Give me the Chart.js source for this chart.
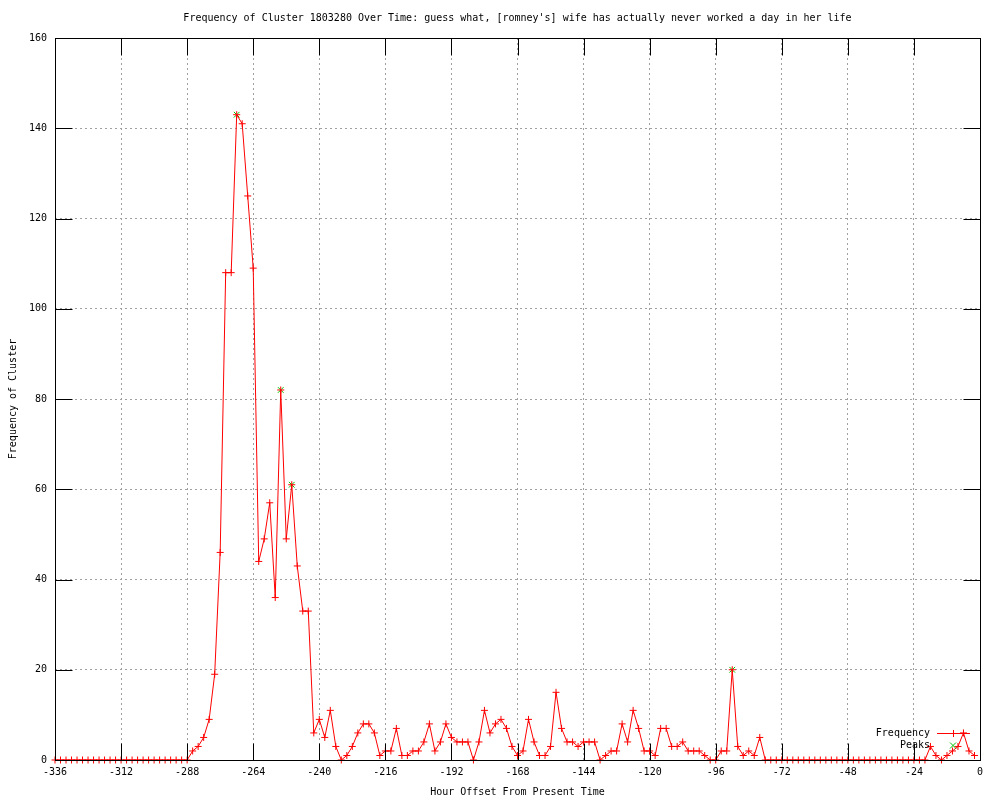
<!DOCTYPE html>
<html>
<head>
<meta charset="utf-8">
<title>Frequency of Cluster 1803280</title>
<script src="https://cdn.jsdelivr.net/npm/chart.js@4.4.0/dist/chart.umd.min.js"></script>
<style>
  html, body { margin: 0; padding: 0; background: #fff; }
  #wrap { width: 1000px; height: 800px; }
</style>
</head>
<body>
<div id="wrap"><canvas id="grafico" width="1000" height="800"></canvas></div>
<script>
/* ---------------------------------------------------------------
   DADOS (um ponto a cada 2 horas)
--------------------------------------------------------------- */
const hours = [
  -336, -334, -332, -330, -328, -326, -324, -322, -320, -318, -316, -314,
  -312, -310, -308, -306, -304, -302, -300, -298, -296, -294, -292, -290,
  -288, -286, -284, -282, -280, -278, -276, -274, -272, -270, -268, -266,
  -264, -262, -260, -258, -256, -254, -252, -250, -248, -246, -244, -242,
  -240, -238, -236, -234, -232, -230, -228, -226, -224, -222, -220, -218,
  -216, -214, -212, -210, -208, -206, -204, -202, -200, -198, -196, -194,
  -192, -190, -188, -186, -184, -182, -180, -178, -176, -174, -172, -170,
  -168, -166, -164, -162, -160, -158, -156, -154, -152, -150, -148, -146,
  -144, -142, -140, -138, -136, -134, -132, -130, -128, -126, -124, -122,
  -120, -118, -116, -114, -112, -110, -108, -106, -104, -102, -100,  -98,
   -96,  -94,  -92,  -90,  -88,  -86,  -84,  -82,  -80,  -78,  -76,  -74,
   -72,  -70,  -68,  -66,  -64,  -62,  -60,  -58,  -56,  -54,  -52,  -50,
   -48,  -46,  -44,  -42,  -40,  -38,  -36,  -34,  -32,  -30,  -28,  -26,
   -24,  -22,  -20,  -18,  -16,  -14,  -12,  -10,   -8,   -6,   -4,   -2
];

const frequency = [
    0,   0,   0,   0,   0,   0,   0,   0,   0,   0,   0,   0,
    0,   0,   0,   0,   0,   0,   0,   0,   0,   0,   0,   0,
    0,   2,   3,   5,   9,  19,  46, 108, 108, 143, 141, 125,
  109,  44,  49,  57,  36,  82,  49,  61,  43,  33,  33,   6,
    9,   5,  11,   3,   0,   1,   3,   6,   8,   8,   6,   1,
    2,   2,   7,   1,   1,   2,   2,   4,   8,   2,   4,   8,
    5,   4,   4,   4,   0,   4,  11,   6,   8,   9,   7,   3,
    1,   2,   9,   4,   1,   1,   3,  15,   7,   4,   4,   3,
    4,   4,   4,   0,   1,   2,   2,   8,   4,  11,   7,   2,
    2,   1,   7,   7,   3,   3,   4,   2,   2,   2,   1,   0,
    0,   2,   2,  20,   3,   1,   2,   1,   5,   0,   0,   0,
    0,   0,   0,   0,   0,   0,   0,   0,   0,   0,   0,   0,
    0,   0,   0,   0,   0,   0,   0,   0,   0,   0,   0,   0,
    0,   0,   0,   3,   1,   0,   1,   2,   3,   6,   2,   1
];

const peakHours  = [-270, -254, -250, -90];
const peakValues = [143, 82, 61, 20];

const xTickStep = 24;
const yTickStep = 20;

const TITULO = "Frequency of Cluster 1803280 Over Time: guess what, [romney's] wife has actually never worked a day in her life";
const FONTE = "'DejaVu Sans Mono', 'Liberation Mono', monospace";
const VERMELHO = "#ff0000";
const VERDE = "#00c000";

/* ---------------------------------------------------------------
   MOLDURA + TICKS PARA DENTRO (estilo gnuplot)
--------------------------------------------------------------- */
const moldura = {
    id: "moldura",
    afterDatasetsDraw(chart) {
        const { ctx, chartArea: a, scales: { x, y } } = chart;
        const L = Math.round(a.left) + 0.5, R = Math.round(a.right) + 0.5;
        const T = Math.round(a.top) + 0.5, B = Math.round(a.bottom) + 0.5;
        const tam = 17;

        ctx.save();
        ctx.strokeStyle = "#000";
        ctx.lineWidth = 1;
        ctx.setLineDash([]);
        ctx.strokeRect(L, T, R - L, B - T);

        ctx.beginPath();
        x.ticks.forEach(t => {
            const px = Math.round(x.getPixelForValue(t.value)) + 0.5;
            ctx.moveTo(px, B); ctx.lineTo(px, B - tam);
            ctx.moveTo(px, T); ctx.lineTo(px, T + tam);
        });
        y.ticks.forEach(t => {
            const py = Math.round(y.getPixelForValue(t.value)) + 0.5;
            ctx.moveTo(L, py); ctx.lineTo(L + tam, py);
            ctx.moveTo(R, py); ctx.lineTo(R - tam, py);
        });
        ctx.stroke();
        ctx.restore();
    }
};

/* ---------------------------------------------------------------
   LEGENDA DENTRO DO GRÁFICO (canto inferior direito)
--------------------------------------------------------------- */
const legendaInterna = {
    id: "legendaInterna",
    afterDraw(chart) {
        const { ctx } = chart;
        const xTexto = 930, xLinha0 = 937, xLinha1 = 970, xMarca = 953;
        const linhas = [
            { texto: "Frequency", y: 733, cor: VERMELHO, linha: true, estilo: "+" },
            { texto: "Peaks", y: 745, cor: VERDE, linha: false, estilo: "x" }
        ];

        ctx.save();
        ctx.font = "10px " + FONTE;
        ctx.textAlign = "right";
        ctx.textBaseline = "middle";
        linhas.forEach(l => {
            ctx.fillStyle = "#000";
            ctx.fillText(l.texto, xTexto, l.y);

            ctx.strokeStyle = l.cor;
            ctx.lineWidth = 1;
            ctx.beginPath();
            const yy = l.y + 0.5;
            if (l.linha) { ctx.moveTo(xLinha0, yy); ctx.lineTo(xLinha1, yy); }
            if (l.estilo === "+") {
                ctx.moveTo(xMarca + 0.5, yy - 3.5); ctx.lineTo(xMarca + 0.5, yy + 3.5);
                ctx.moveTo(xMarca - 3.5, yy); ctx.lineTo(xMarca + 3.5, yy);
            } else {
                ctx.moveTo(xMarca - 3, yy - 3); ctx.lineTo(xMarca + 3, yy + 3);
                ctx.moveTo(xMarca - 3, yy + 3); ctx.lineTo(xMarca + 3, yy - 3);
            }
            ctx.stroke();
        });
        ctx.restore();
    }
};

/* ---------------------------------------------------------------
   GRÁFICO
--------------------------------------------------------------- */
const fonteTexto = { family: FONTE, size: 10, weight: "normal" };

const grafico = new Chart(document.querySelector("#grafico").getContext("2d"), {
    type: "line",
    data: {
        datasets: [
            {
                label: "Frequency",
                data: hours.map((h, i) => ({ x: h, y: frequency[i] })),
                borderColor: VERMELHO,
                borderWidth: 1,
                pointStyle: "cross",
                pointRadius: 3.5,
                pointBorderColor: VERMELHO,
                pointBorderWidth: 1,
                tension: 0,
                clip: false
            },
            {
                label: "Peaks",
                data: peakHours.map((h, i) => ({ x: h, y: peakValues[i] })),
                showLine: false,
                borderColor: VERDE,
                pointStyle: "crossRot",
                pointRadius: 4,
                pointBorderColor: VERDE,
                pointBorderWidth: 1,
                clip: false
            }
        ]
    },
    options: {
        responsive: false,
        animation: false,
        events: [],
        layout: { padding: { top: 0, right: 20, bottom: 0, left: 0 } },
        plugins: {
            legend: { display: false },
            tooltip: { enabled: false },
            title: {
                display: true,
                text: TITULO,
                fullSize: false,
                color: "#000",
                font: fonteTexto,
                padding: { top: 12, bottom: 14 }
            }
        },
        scales: {
            x: {
                type: "linear",
                min: -336,
                max: 0,
                afterFit: s => { s.height = 40; },
                ticks: {
                    stepSize: xTickStep,
                    color: "#000",
                    font: fonteTexto,
                    padding: 6,
                    maxRotation: 0,
                    autoSkip: false,
                    callback: v => String(v)
                },
                grid: { color: "#a0a0a0", lineWidth: 1, drawTicks: false },
                border: { display: false, dash: [2, 3] },
                title: {
                    display: true,
                    text: "Hour Offset From Present Time",
                    color: "#000",
                    font: fonteTexto,
                    padding: { top: 0, bottom: 2 }
                }
            },
            y: {
                min: 0,
                max: 160,
                afterFit: s => { s.width = 55; },
                ticks: {
                    stepSize: yTickStep,
                    color: "#000",
                    font: fonteTexto,
                    padding: 8,
                    callback: v => String(v)
                },
                grid: { color: "#a0a0a0", lineWidth: 1, drawTicks: false },
                border: { display: false, dash: [2, 3] },
                title: {
                    display: true,
                    text: "Frequency of Cluster",
                    color: "#000",
                    font: fonteTexto,
                    padding: { top: 7, bottom: 0 }
                }
            }
        }
    },
    plugins: [moldura, legendaInterna]
});
</script>
</body>
</html>
